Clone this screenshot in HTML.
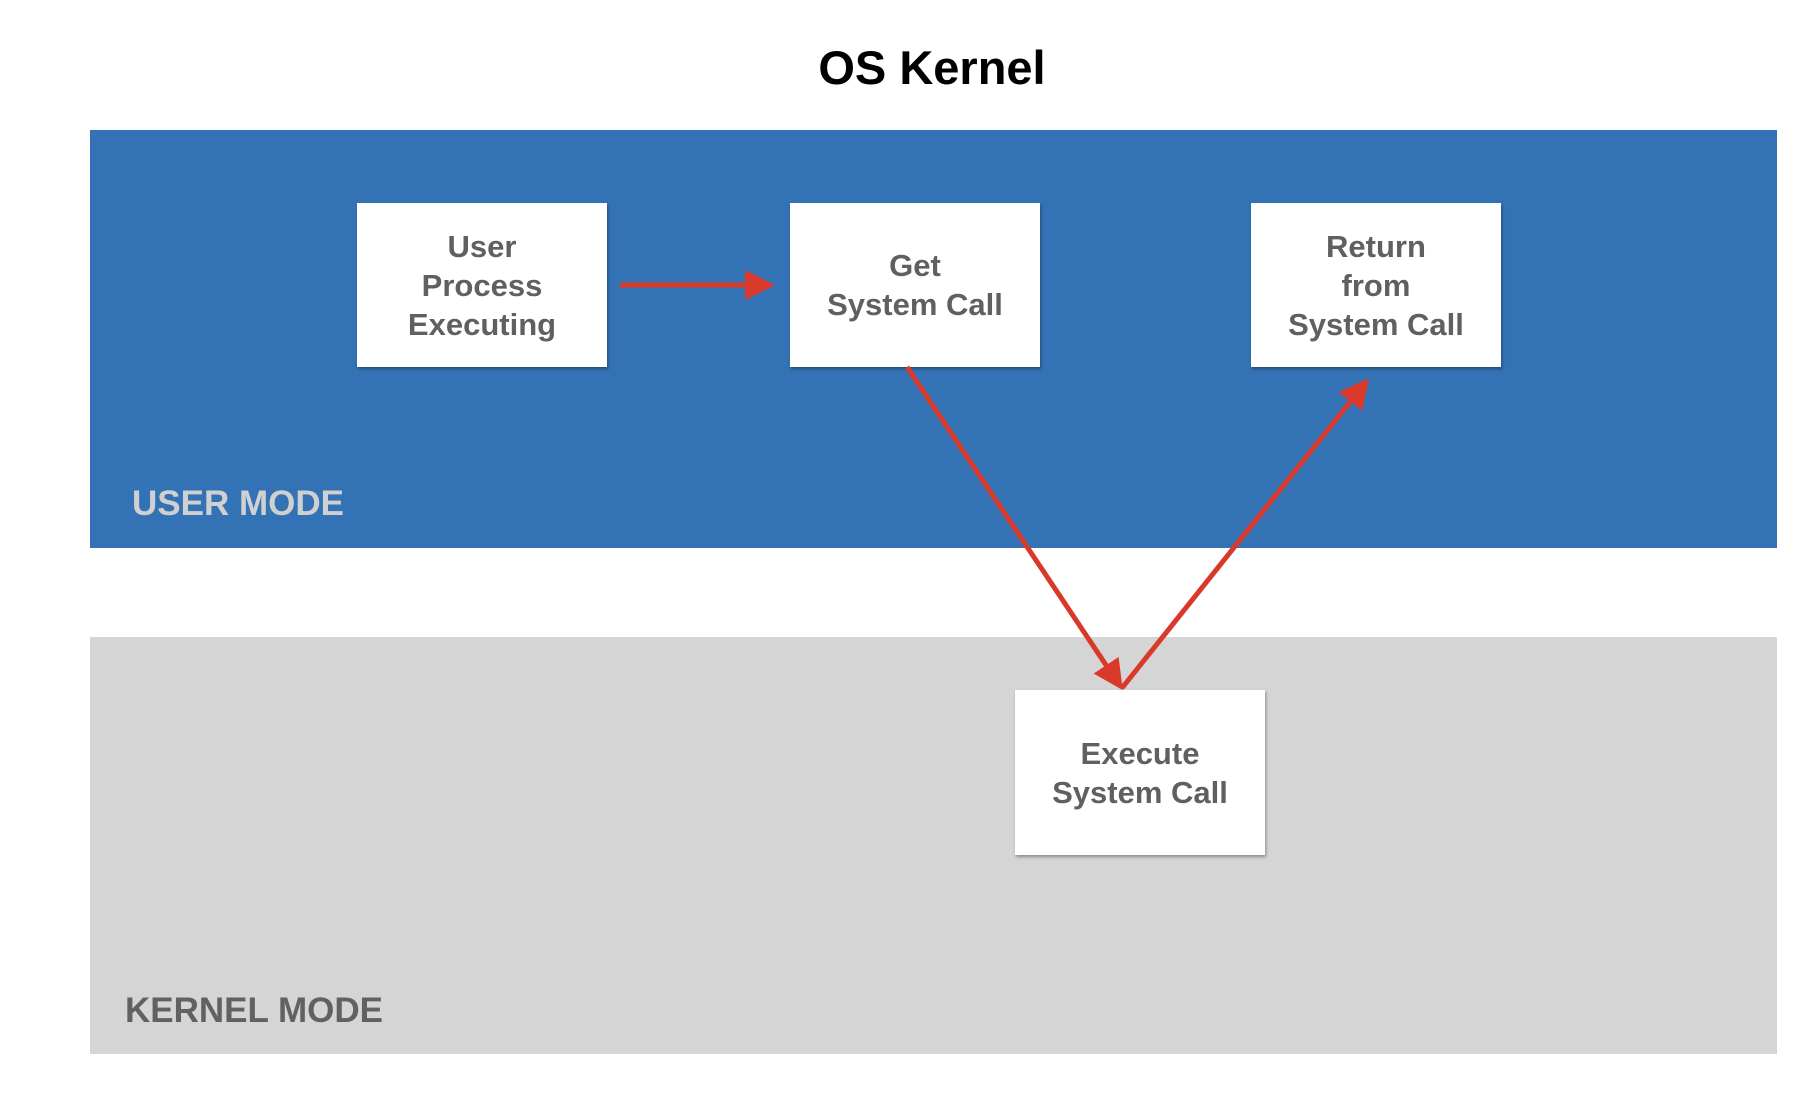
<!DOCTYPE html>
<html><head><meta charset="utf-8"><style>
body{margin:0;width:1800px;height:1104px;background:#fff;position:relative;overflow:hidden;font-family:"Liberation Sans",sans-serif;font-weight:bold}
.a{position:absolute}
.box{position:absolute;background:#fff;box-shadow:1px 2px 3px rgba(0,0,0,.35);display:flex;align-items:center;justify-content:center;text-align:center;color:#606060;font-size:31px;line-height:39px}
</style></head><body>
<div class="a" style="left:0;width:1864px;top:40px;text-align:center;font-size:47px;color:#000">OS Kernel</div>
<div class="a" style="left:90px;top:130px;width:1687px;height:418px;background:#3373b5"></div>
<div class="a" style="left:90px;top:637px;width:1687px;height:417px;background:#d5d5d5"></div>
<div class="a" style="left:132px;top:484px;font-size:35px;color:#d0d0d0">USER MODE</div>
<div class="a" style="left:125px;top:991px;font-size:35px;color:#616161">KERNEL MODE</div>
<div class="box" style="left:357px;top:203px;width:250px;height:164px">User<br>Process<br>Executing</div>
<div class="box" style="left:790px;top:203px;width:250px;height:164px">Get<br>System Call</div>
<div class="box" style="left:1251px;top:203px;width:250px;height:164px">Return<br>from<br>System Call</div>
<div class="box" style="left:1015px;top:690px;width:250px;height:165px">Execute<br>System Call</div>
<svg class="a" style="left:0;top:0" width="1800" height="1104">
<defs><marker id="m" markerWidth="6" markerHeight="6" refX="5" refY="3" orient="auto" markerUnits="strokeWidth"><path d="M0,0L6,3L0,6z" fill="#d9392b"/></marker></defs>
<g stroke="#d9392b" stroke-width="5" fill="none">
<line x1="620" y1="285" x2="770" y2="285" marker-end="url(#m)"/>
<line x1="907" y1="367" x2="1120" y2="686" marker-end="url(#m)"/>
<line x1="1122" y1="688" x2="1366" y2="382" marker-end="url(#m)"/>
</g></svg>
</body></html>
